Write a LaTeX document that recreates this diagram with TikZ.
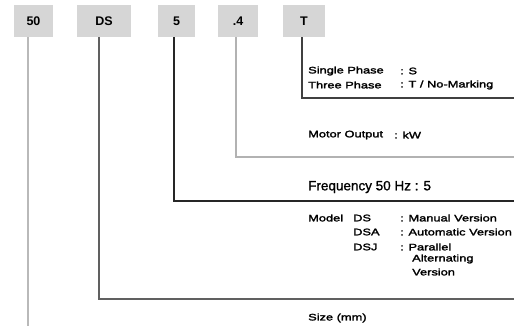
\documentclass[tikz,border=0pt]{standalone}
\usepackage{fontspec}
\setmainfont{Liberation Sans}
\newfontfamily\catfont[FakeStretch=1.35,FakeBold=2.2]{Liberation Sans}
\newfontfamily\freqfont[FakeBold=1.2]{Liberation Sans}
\usepackage{tikz}
\usetikzlibrary{positioning}
\usetikzlibrary{calc}
\definecolor{boxgray}{RGB}{214,214,214}
\tikzset{
  codebox/.style={fill=boxgray,minimum height=32pt,inner sep=0pt,font=\fontsize{12.5}{12.5}\selectfont\bfseries},
  note/.style={anchor=west,inner sep=0pt,font=\catfont\fontsize{9.5}{10}\selectfont},
  lead/.style={line width=1.1pt}
}
\begin{document}
\begin{tikzpicture}[x=1pt,y=-1pt]
  \useasboundingbox (0,0) rectangle (521,326);
  % the code boxes along the top
  \node[codebox,minimum width=39pt] (b50) at (33.5,21) {50};
  \node[codebox,minimum width=54pt] (bDS) at (104,21) {DS};
  \node[codebox,minimum width=37pt] (b5) at (176.5,21) {5};
  \node[codebox,minimum width=40pt] (b4) at (238,21) {.4};
  \node[codebox,minimum width=42pt] (bT) at (304,21) {T};
  % corners where the leads turn right
  \coordinate (cT) at (302,98);  \coordinate (eT) at (514,98);
  \coordinate (c4) at (236,157); \coordinate (e4) at (514,157);
  \coordinate (c5) at (174,201); \coordinate (e5) at (514,201);
  \coordinate (cDS) at (99,299); \coordinate (eDS) at (514,299);
  \coordinate (c50) at (28,326);
  % leads
  \draw[lead,gray!55] ([xshift=-5.5pt]b50.south) -- (c50);
  \draw[lead,gray!75!black] ([xshift=-5pt]bDS.south) -- (cDS) -- (eDS);
  \draw[lead,black!85] ([xshift=-2.5pt]b5.south) -- (c5) -- (e5);
  \draw[lead,gray!60] ([xshift=-2pt]b4.south) -- (c4) -- (e4);
  \draw[lead,black!75] ([xshift=-2pt]bT.south) -- (cT) -- (eT);
  % phase
  \node[note] (phS) at (308,71) {Single Phase};
  \node[note] (phSv) at (400,71) {: S};
  \node[note] (phT) at (308,85) {Three Phase};
  \node[note] (phTv) at (400,85) {: T / No-Marking};
  % output and frequency
  \node[note] (motor) at (308,135) {Motor Output};
  \node[note] (motorv) at (394,135) {: kW};
  \node[note,font=\freqfont\fontsize{13.5}{14}\selectfont] (freq) at (308,187) {Frequency 50 Hz : 5};
  % model
  \node[note] (model) at (308,218) {Model};
  \node[note] (mDS) at (353,218) {DS};
  \node[note] (mDSv) at (400,218) {: Manual Version};
  \node[note] (mDSA) at (353,232) {DSA};
  \node[note] (mDSAv) at (400,232) {: Automatic Version};
  \node[note] (mDSJ) at (353,247) {DSJ};
  \node[note] (mDSJv) at (400,247) {: Parallel};
  \node[note] (alt) at (412,259) {Alternating};
  \node[note] (ver) at (412,272) {Version};
  % size
  \node[note] (size) at (308,318) {Size (mm)};
\end{tikzpicture}
\end{document}
